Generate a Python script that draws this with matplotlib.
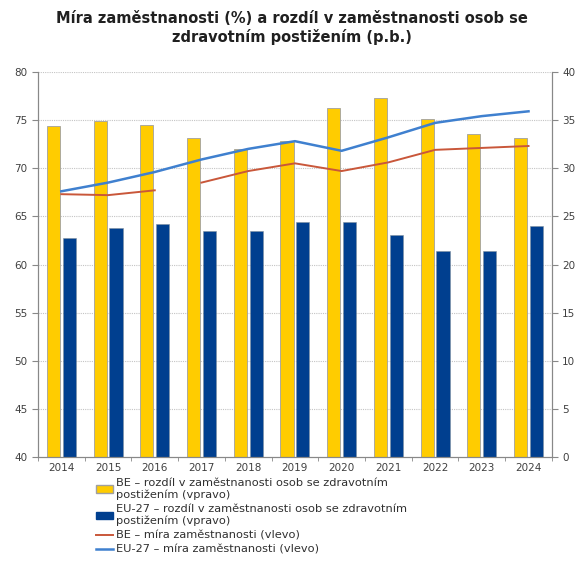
import matplotlib.pyplot as plt
import numpy as np
from matplotlib.patches import Patch
from matplotlib.lines import Line2D

years = ['2014', '2015', '2016', '2017', '2018', '2019', '2020', '2021', '2022', '2023', '2024']

# gap in employment (right axis, p.b.)
be_gap = [34.4, 34.9, 34.5, 33.1, 32.0, 32.8, 36.2, 37.3, 35.1, 33.5, 33.1]
eu_gap = [22.7, 23.8, 24.2, 23.5, 23.5, 24.4, 24.4, 23.1, 21.4, 21.4, 24.0]

# employment rate (left axis, %)
be_rate = [67.3, 67.2, 67.7, 68.5, 69.7, 70.5, 69.7, 70.6, 71.9, 72.1, 72.3]
eu_rate = [67.6, 68.5, 69.6, 70.9, 72.0, 72.8, 71.8, 73.2, 74.7, 75.4, 75.9]
be_break = 3  # series break between 2016 and 2017

labels = ['BE – rozdíl v zaměstnanosti osob se zdravotním\npostižením (vpravo)',
          'EU-27 – rozdíl v zaměstnanosti osob se zdravotním\npostižením (vpravo)',
          'BE – míra zaměstnanosti (vlevo)',
          'EU-27 – míra zaměstnanosti (vlevo)']

yellow = '#FFCC00'
navy = '#003F8F'
red = '#C9573A'
blue = '#3F80CF'
gray = '#888888'

fig = plt.figure(figsize=(5.84, 5.61), dpi=100)
ax = fig.add_axes([0.065, 0.185, 0.88, 0.687])
ax2 = ax.twinx()

x = np.arange(len(years))
w = 0.28
ax2.bar(x - w / 2 - 0.03, be_gap, w, color=yellow, edgecolor='#A0A0A0', linewidth=0.6, zorder=2)
ax2.bar(x + w / 2 + 0.03, eu_gap, w, color=navy, edgecolor='#8090A0', linewidth=0.4, zorder=2)
ax2.set_ylim(0, 40)
ax2.set_yticks(range(0, 41, 5))

# lines drawn on top of bars
ax.set_zorder(ax2.get_zorder() + 1)
ax.patch.set_visible(False)
ax.plot(x[:be_break], be_rate[:be_break], color=red, lw=1.4)
ax.plot(x[be_break:], be_rate[be_break:], color=red, lw=1.4)
ax.plot(x, eu_rate, color=blue, lw=1.8)
ax.set_ylim(40, 80)
ax.set_yticks(range(40, 81, 5))
ax.set_xlim(-0.5, len(years) - 0.5)

# grid on the bar axis so it sits behind everything
for v in range(5, 41, 5):
    ax2.axhline(v, color='#C4C4C4', lw=0.8, ls=(0, (1, 1)), zorder=0)

ax.set_xticks(x)
ax.set_xticklabels(years)
ax.set_xticks(np.arange(-0.5, len(years), 1), minor=True)
ax.tick_params(axis='x', which='major', length=0, labelsize=7.5, colors='#404040', pad=4)
ax.tick_params(axis='x', which='minor', length=3, color=gray)
ax.tick_params(axis='y', labelsize=7.5, colors='#404040', length=4, color=gray)
ax2.tick_params(axis='y', labelsize=7.5, colors='#404040', length=4, color=gray)

for a in (ax, ax2):
    a.spines['top'].set_visible(False)
    for s in ('left', 'right', 'bottom'):
        a.spines[s].set_color(gray)
        a.spines[s].set_linewidth(0.8)

fig.suptitle('Míra zaměstnanosti (%) a rozdíl v zaměstnanosti osob se\nzdravotním postižením (p.b.)',
             fontsize=10.5, fontweight='bold', y=0.98, x=0.5, color='#202020')

handles = [Patch(facecolor=yellow, edgecolor='#A0A0A0'),
           Patch(facecolor=navy, edgecolor=navy),
           Line2D([], [], color=red, lw=1.4),
           Line2D([], [], color=blue, lw=1.8)]
fig.legend(handles, labels, loc='upper left', bbox_to_anchor=(0.165, 0.148), frameon=False,
           fontsize=8.2, handlelength=1.5, handleheight=0.6, handletextpad=0.2,
           labelspacing=0.35, borderaxespad=0, borderpad=0, labelcolor='#303030')

fig.savefig('out.png', dpi=100)
